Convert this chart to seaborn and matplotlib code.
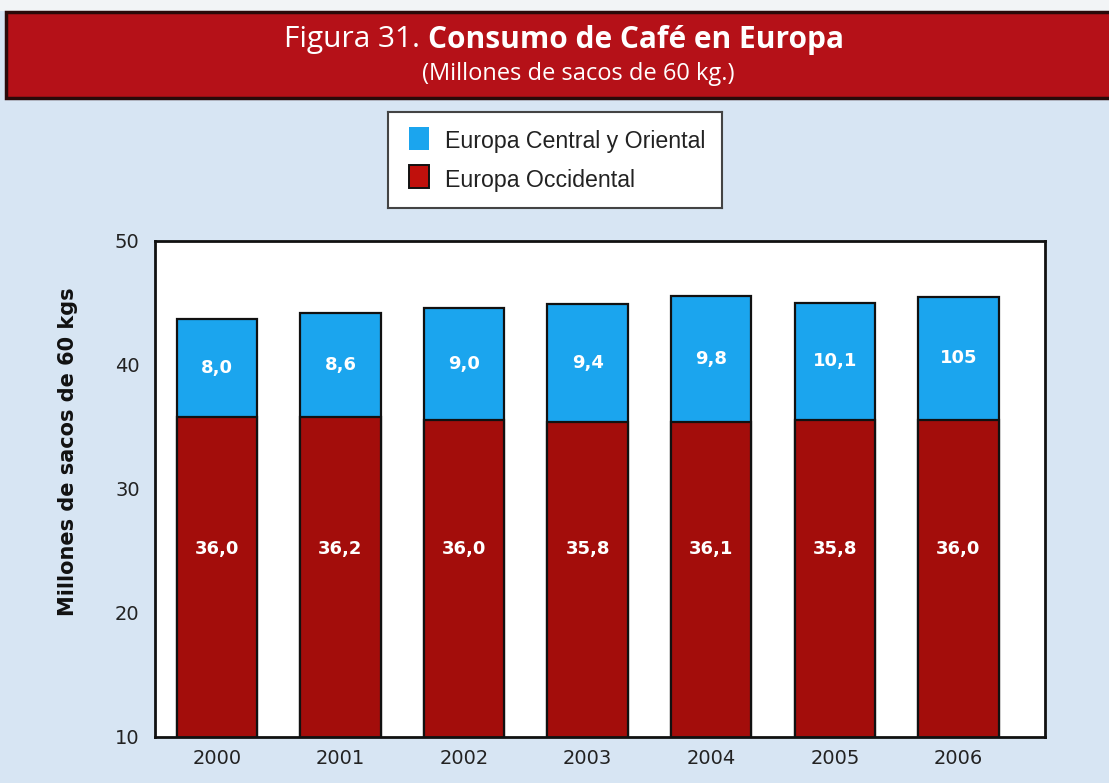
import matplotlib.pyplot as plt
import numpy as np
import pandas as pd
import seaborn as sns
from matplotlib.patches import Rectangle

# Data (bar heights as drawn in the figure, labels as printed)
years = ['2000', '2001', '2002', '2003', '2004', '2005', '2006']
occidental = [35.8, 35.8, 35.6, 35.4, 35.4, 35.6, 35.6]
total = [43.7, 44.2, 44.6, 44.9, 45.6, 45.0, 45.5]
occ_labels = ['36,0', '36,2', '36,0', '35,8', '36,1', '35,8', '36,0']
cen_labels = ['8,0', '8,6', '9,0', '9,4', '9,8', '10,1', '105']

df = pd.DataFrame({'Año': years, 'Occidental': occidental, 'Total': total})

RED = '#A30D0B'
BLUE = '#1BA5EE'
BG = '#D7E5F3'

sns.set_style("white")
fig = plt.figure(figsize=(11.09, 7.83), dpi=100)
fig.patch.set_facecolor(BG)

# Header band
fig.patches.append(Rectangle((0, 1 - 11 / 783), 1, 11 / 783, transform=fig.transFigure,
                             facecolor='#F2F4F6', edgecolor='none', zorder=0))
fig.patches.append(Rectangle((6 / 1109, 1 - 98 / 783), 1, 86 / 783, transform=fig.transFigure,
                             facecolor='#B51118', edgecolor='#2A0A0A', linewidth=2.5, zorder=1))
fig.text(428 / 1109, 1 - 40 / 783, 'Figura 31. ', ha='right', va='center', color='white',
         fontsize=21.5, family='Open Sans')
fig.text(428 / 1109, 1 - 40 / 783, 'Consumo de Café en Europa', ha='left', va='center',
         color='white', fontsize=21.5, family='Open Sans', fontweight='bold')
fig.text(578 / 1109, 1 - 74 / 783, '(Millones de sacos de 60 kg.)', ha='center', va='center',
         color='white', fontsize=17, family='Open Sans')

ax = fig.add_axes([155 / 1109, 1 - 737 / 783, (1045 - 155) / 1109, (737 - 241) / 783])
ax.set_facecolor('white')

sns.barplot(data=df, x='Año', y='Total', color=BLUE, width=0.65, edgecolor='#111111',
            linewidth=1.6, saturation=1, ax=ax)
sns.barplot(data=df, x='Año', y='Occidental', color=RED, width=0.65, edgecolor='#111111',
            linewidth=1.6, saturation=1, ax=ax)

for i in range(len(years)):
    ax.text(i, 25.2, occ_labels[i], ha='center', va='center', color='white',
            fontsize=13, fontweight='bold')
    ax.text(i, (occidental[i] + total[i]) / 2, cen_labels[i], ha='center',
            va='center', color='white', fontsize=13, fontweight='bold')

ax.set_ylim(10, 50)
ax.set_xlim(-0.5, 6.7)
ax.set_yticks([10, 20, 30, 40, 50])
ax.tick_params(axis='both', length=0, labelsize=14, colors='#222222')
ax.tick_params(axis='x', pad=9)
ax.tick_params(axis='y', pad=11)
ax.set_xlabel('')
ax.set_ylabel('Millones de sacos de 60 kgs', fontsize=15, fontweight='bold', color='#111111')
ax.yaxis.set_label_coords(-0.086, 0.575)
for s in ax.spines.values():
    s.set_color('#111111')
    s.set_linewidth(2)

# Legend box
lax = fig.add_axes([388 / 1109, 1 - 208 / 783, (722 - 388) / 1109, (208 - 112) / 783])
lax.set_xlim(0, 1)
lax.set_ylim(0, 1)
lax.set_xticks([])
lax.set_yticks([])
lax.set_facecolor('white')
for s in lax.spines.values():
    s.set_color('#444444')
    s.set_linewidth(1.5)
lax.add_patch(Rectangle((0.062, 0.60), 0.062, 0.24, facecolor=BLUE, edgecolor='none'))
lax.add_patch(Rectangle((0.062, 0.21), 0.062, 0.24, facecolor='#C0100C', edgecolor='#111111',
                        linewidth=1.4))
lax.text(0.17, 0.69, 'Europa Central y Oriental', va='center', fontsize=16.7, color='#222222',
         family='Liberation Sans')
lax.text(0.17, 0.29, 'Europa Occidental', va='center', fontsize=16.7, color='#222222',
         family='Liberation Sans')

plt.savefig('out.png', dpi=100, facecolor=fig.get_facecolor())
